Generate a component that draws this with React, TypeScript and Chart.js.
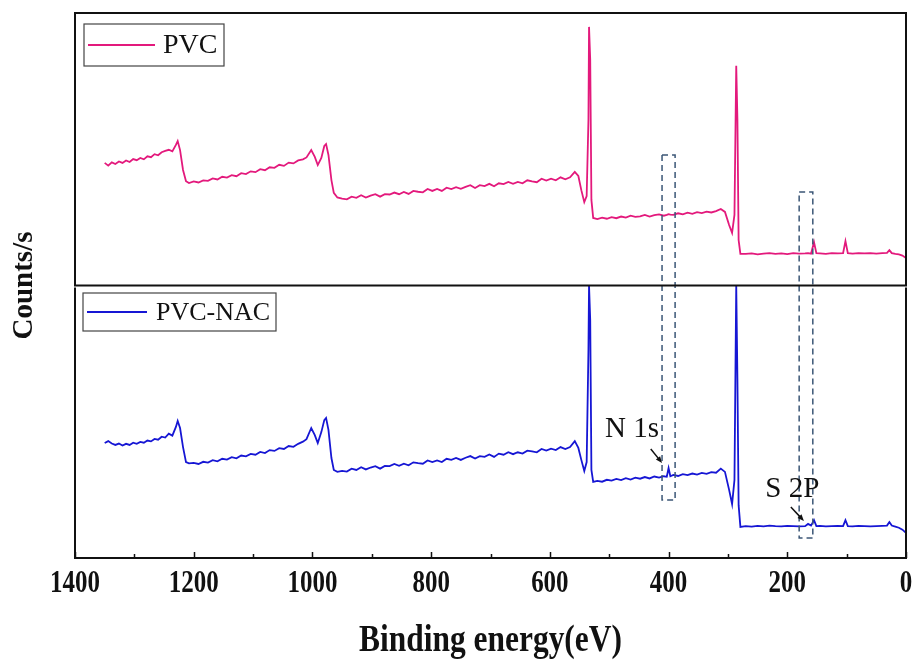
import React, { useEffect, useRef } from 'react';
import { Chart, registerables } from 'chart.js';

Chart.register(...registerables);

// Binding energy (eV) sampling points, shared by both spectra
const energies = [
  1350, 1344, 1338, 1332, 1326, 1320, 1314, 1308, 1302, 1296, 1290, 1284, 1278, 1272, 1266, 1260, 1254, 1248, 1242, 1236,
  1230, 1227, 1223, 1218, 1213, 1208,
  1200, 1192, 1184, 1176, 1168, 1160, 1152, 1144, 1136, 1128, 1120, 1112, 1104, 1096, 1088, 1080, 1072, 1064, 1056, 1048,
  1040, 1032, 1024, 1016, 1010,
  1002, 996, 991, 985, 980, 977, 973, 968, 964, 958,
  950, 942, 934, 926, 918, 910, 902, 894, 886, 878, 870, 862, 854, 846, 838, 830, 822, 814, 806, 798,
  790, 782, 774, 766, 758, 750, 742, 734, 726, 718, 710, 702, 694, 686, 678, 670, 662, 654, 646, 638,
  630, 622, 614, 606, 598, 590, 582, 574, 566,
  558, 552, 547, 542, 538, 535, 534, 532, 530, 527,
  520, 512, 504, 496, 488, 480, 472, 464, 456, 448, 440, 432, 424, 416, 408, 403, 400, 397, 392, 384,
  376, 368, 360, 352, 344, 336, 328, 320,
  312, 305, 298, 293, 289, 286, 284, 282, 279,
  270, 260, 250, 240, 230, 220, 210, 200, 190, 180, 170, 165, 160, 155, 151, 145, 135, 125, 115, 106,
  102, 98, 90, 80, 70, 60, 50, 40, 32, 28, 24, 18, 12, 6, 0,
];

// PVC spectrum (upper panel, offset counts)
const pvcCounts = [
  145.0, 144.0, 145.2, 144.6, 145.5, 145.0, 145.9, 145.3, 146.4, 146.0, 146.8, 146.3, 147.4, 147.1, 148.2, 147.8, 148.9, 149.4, 149.8, 149.2,
  151.6, 153.0, 149.7, 142.4, 138.3, 137.6,
  138.2, 137.8, 138.6, 138.4, 139.3, 138.9, 139.9, 139.6, 140.5, 140.1, 141.2, 140.9, 141.9, 141.6, 142.7, 142.3, 143.4, 143.2, 144.3, 143.9,
  145.1, 144.8, 145.9, 146.3, 147.0,
  149.7, 147.2, 144.2, 146.8, 151.2, 151.9, 147.9, 138.7, 134.0, 132.3,
  131.9, 131.6, 132.6, 132.2, 133.1, 132.3, 133.0, 133.5, 132.6, 133.5, 133.4, 134.1, 133.5, 134.3, 133.6, 134.7, 134.4, 134.2, 135.4, 134.7,
  135.4, 134.7, 135.9, 135.4, 136.1, 135.5, 136.2, 136.8, 135.8, 136.8, 136.5, 137.3, 136.4, 137.5, 137.2, 138.0, 137.3, 138.0, 137.5, 138.6,
  138.2, 137.9, 139.2, 138.5, 139.2, 138.6, 139.7, 139.0, 139.7,
  141.7, 140.2, 135.0, 130.6, 132.8, 160.7, 194.9, 182.8, 131.4, 124.8,
  124.4, 124.9, 124.5, 125.1, 124.7, 125.3, 124.9, 125.6, 125.2, 125.4, 125.9, 125.3, 125.8, 126.1, 125.6, 125.9, 126.2, 126.0, 125.9, 126.5,
  126.1, 126.7, 126.3, 126.9, 126.6, 127.1, 126.8, 127.3,
  128.1, 127.0, 122.2, 119.3, 125.9, 180.6, 160.7, 116.7, 111.6,
  111.6, 111.8, 111.4, 111.7, 111.9, 111.6, 111.8, 111.5, 111.9, 111.7, 111.8, 111.9, 111.7, 115.9, 111.9, 111.8, 111.6, 111.9, 111.8, 111.9,
  116.3, 111.9, 111.7, 111.9, 111.8, 111.9, 111.7, 111.9, 112.0, 113.0, 111.9, 111.6, 111.4, 111.0, 110.1,
];

// PVC-NAC spectrum (lower panel)
const pvcNacCounts = [
  42.2, 42.9, 42.0, 41.5, 42.0, 41.3, 41.9, 41.5, 42.3, 41.9, 42.6, 42.3, 43.1, 42.8, 43.7, 43.4, 44.5, 44.2, 45.6, 44.9,
  48.1, 50.3, 47.7, 40.7, 35.2, 34.7,
  34.9, 34.5, 35.3, 35.0, 35.9, 35.5, 36.4, 36.1, 37.0, 36.6, 37.6, 37.3, 38.2, 37.9, 38.9, 38.5, 39.6, 39.3, 40.3, 40.0,
  41.1, 40.8, 41.9, 42.7, 43.6,
  47.7, 45.1, 42.2, 46.2, 50.6, 51.4, 47.0, 36.7, 32.3, 31.6,
  32.0, 31.7, 32.8, 32.3, 33.3, 32.5, 33.2, 33.7, 32.8, 33.8, 33.7, 34.5, 33.8, 34.6, 34.0, 35.1, 34.8, 34.6, 35.8, 35.2,
  35.8, 35.2, 36.4, 36.0, 36.7, 36.0, 36.8, 37.4, 36.5, 37.4, 37.1, 38.0, 37.1, 38.3, 37.9, 38.8, 38.1, 38.8, 38.3, 39.4,
  39.1, 38.8, 40.0, 39.4, 40.1, 39.6, 40.7, 40.0, 40.7,
  42.9, 40.4, 36.0, 31.9, 35.2, 76.3, 100.0, 87.3, 32.3, 27.9,
  28.3, 28.0, 28.7, 28.4, 29.0, 28.6, 29.3, 28.8, 29.5, 29.1, 29.7, 29.2, 29.9, 29.5, 30.0, 29.8, 33.0, 30.0, 30.5, 30.1,
  30.8, 30.4, 31.0, 30.6, 31.2, 30.9, 31.5, 31.3,
  32.8, 31.6, 25.0, 19.8, 28.6, 100.0, 65.3, 19.4, 11.4,
  11.7, 11.5, 11.8, 11.6, 11.9, 11.7, 11.6, 11.8, 11.7, 11.6, 11.7, 12.5, 11.9, 13.9, 11.7, 11.8, 11.6, 11.7, 11.8, 11.7,
  13.9, 11.7, 11.6, 11.8, 11.7, 11.6, 11.7, 11.8, 11.9, 13.2, 11.9, 11.5, 11.1, 10.4, 9.2,
];

const seriesNames = ['PVC', 'PVC-NAC'];
const seriesColors = ['#e3197c', '#1616d4'];
const xTickValues = [1400, 1300, 1200, 1100, 1000, 900, 800, 700, 600, 500, 400, 300, 200, 100, 0];
const xAxisTitle = 'Binding energy(eV)';
const yAxisTitle = 'Counts/s';
const panelSplit = 100;
// Dashed marker boxes: [eV high, eV low, counts top, counts bottom]
const n1sBox = [411, 389, 147.9, 21.3];
const s2pBox = [180, 157, 134.3, 7.3];
// Annotation labels: [text, eV, counts] and arrows [eV from, counts from, eV to, counts to]
const annoLabels: [string, number, number][] = [
  ['N 1s', 507, 44.4],
  ['S 2P', 237, 22.4],
];
const annoArrows = [
  [430, 40.0, 411, 34.9],
  [194, 18.7, 172, 13.6],
];

const SERIF = '"Liberation Serif", "Times New Roman", serif';

const decorPlugin = {
  id: 'xpsDecor',
  afterDatasetsDraw(chart: any) {
    const { ctx, chartArea: a, scales } = chart;
    const x = scales.x;
    const y = scales.y;
    const mid = y.getPixelForValue(panelSplit);
    ctx.save();

    // dashed marker boxes
    ctx.strokeStyle = '#3b5676';
    ctx.lineWidth = 1.5;
    ctx.setLineDash([6, 4]);
    for (const b of [n1sBox, s2pBox]) {
      const x1 = x.getPixelForValue(b[0]);
      const x2 = x.getPixelForValue(b[1]);
      const y1 = y.getPixelForValue(b[2]);
      const y2 = y.getPixelForValue(b[3]);
      ctx.strokeRect(x1, y1, x2 - x1, y2 - y1);
    }
    ctx.setLineDash([]);

    // frames
    ctx.strokeStyle = '#111';
    ctx.lineWidth = 2;
    ctx.strokeRect(a.left, a.top, a.right - a.left, mid - a.top);
    ctx.beginPath();
    ctx.moveTo(a.left, mid + 2);
    ctx.lineTo(a.left, a.bottom);
    ctx.lineTo(a.right, a.bottom);
    ctx.lineTo(a.right, mid + 2);
    ctx.stroke();

    // inward tick marks on the bottom axis
    ctx.lineWidth = 1.5;
    ctx.beginPath();
    for (const v of xTickValues) {
      const px = Math.round(x.getPixelForValue(v)) + 0.5;
      const len = v % 200 === 0 ? 6 : 4;
      ctx.moveTo(px, a.bottom);
      ctx.lineTo(px, a.bottom - len);
    }
    ctx.stroke();

    // x tick labels (condensed bold, as in the original figure)
    ctx.fillStyle = '#111';
    ctx.textAlign = 'center';
    ctx.textBaseline = 'alphabetic';
    ctx.font = `bold 32px ${SERIF}`;
    for (const t of x.ticks) {
      const px = x.getPixelForValue(t.value);
      ctx.save();
      ctx.translate(px, a.bottom + 34);
      ctx.scale(0.78, 1);
      ctx.fillText(String(t.value), 0, 0);
      ctx.restore();
    }
    // x axis title
    ctx.font = `bold 37px ${SERIF}`;
    ctx.save();
    ctx.translate((a.left + a.right) / 2, a.bottom + 93);
    ctx.scale(0.85, 1);
    ctx.fillText(xAxisTitle, 0, 0);
    ctx.restore();

    // legends
    const legends = [
      { top: a.top + 11, h: 42, w: 140, boxL: 9, lineL: 13, lineR: 80, textX: 88, size: 28 },
      { top: mid + 7.5, h: 38, w: 193, boxL: 8, lineL: 12, lineR: 72, textX: 81, size: 26 },
    ];
    legends.forEach((L, i) => {
      ctx.strokeStyle = '#444';
      ctx.lineWidth = 1.2;
      ctx.strokeRect(a.left + L.boxL, L.top, L.w, L.h);
      ctx.strokeStyle = seriesColors[i];
      ctx.lineWidth = 2;
      ctx.beginPath();
      ctx.moveTo(a.left + L.lineL, L.top + L.h / 2);
      ctx.lineTo(a.left + L.lineR, L.top + L.h / 2);
      ctx.stroke();
      ctx.fillStyle = '#111';
      ctx.font = `${L.size}px ${SERIF}`;
      ctx.textBaseline = 'middle';
      ctx.textAlign = 'left';
      ctx.fillText(seriesNames[i], a.left + L.textX, L.top + L.h / 2 + 1);
    });

    // annotations
    ctx.fillStyle = '#111';
    ctx.font = `29px ${SERIF}`;
    ctx.textBaseline = 'alphabetic';
    ctx.textAlign = 'left';
    for (const [t, ev, c] of annoLabels) {
      ctx.fillText(t, x.getPixelForValue(ev), y.getPixelForValue(c));
    }
    ctx.strokeStyle = '#111';
    ctx.lineWidth = 1.5;
    for (const ar of annoArrows) {
      const x1 = x.getPixelForValue(ar[0]);
      const y1 = y.getPixelForValue(ar[1]);
      const x2 = x.getPixelForValue(ar[2]);
      const y2 = y.getPixelForValue(ar[3]);
      const ang = Math.atan2(y2 - y1, x2 - x1);
      const hl = 7;
      ctx.beginPath();
      ctx.moveTo(x1, y1);
      ctx.lineTo(x2 - Math.cos(ang) * hl * 0.6, y2 - Math.sin(ang) * hl * 0.6);
      ctx.stroke();
      ctx.beginPath();
      ctx.moveTo(x2, y2);
      ctx.lineTo(x2 - hl * Math.cos(ang - 0.4), y2 - hl * Math.sin(ang - 0.4));
      ctx.lineTo(x2 - hl * Math.cos(ang + 0.4), y2 - hl * Math.sin(ang + 0.4));
      ctx.closePath();
      ctx.fill();
    }
    ctx.restore();
  },
};

export default function App() {
  const ref = useRef<HTMLCanvasElement>(null);
  useEffect(() => {
    if (!ref.current) return;
    const chart = new Chart(ref.current, {
      type: 'line',
      data: {
        datasets: [
          {
            label: seriesNames[0],
            data: energies.map((e, i) => ({ x: e, y: pvcCounts[i] })),
            borderColor: seriesColors[0],
            borderWidth: 1.8,
            pointRadius: 0,
            tension: 0,
          },
          {
            label: seriesNames[1],
            data: energies.map((e, i) => ({ x: e, y: pvcNacCounts[i] })),
            borderColor: seriesColors[1],
            borderWidth: 1.8,
            pointRadius: 0,
            tension: 0,
          },
        ],
      },
      options: {
        responsive: false,
        animation: false,
        devicePixelRatio: 1,
        layout: { padding: { top: 13, right: 13, left: 0, bottom: 0 } },
        plugins: { legend: { display: false }, tooltip: { enabled: false } },
        scales: {
          x: {
            type: 'linear',
            reverse: true,
            min: 0,
            max: 1400,
            grid: { display: false },
            border: { display: false },
            ticks: { stepSize: 200, display: false },
            afterFit: (s: any) => {
              s.height = 105;
            },
          },
          y: {
            min: 0,
            max: 200,
            grid: { display: false },
            border: { display: false },
            ticks: { display: false },
            title: {
              display: true,
              text: yAxisTitle,
              color: '#111',
              font: { family: SERIF, weight: 'bold', size: 29 },
              padding: { top: 7, bottom: 0 },
            },
            afterFit: (s: any) => {
              s.width = 75;
            },
          },
        },
      } as any,
      plugins: [decorPlugin],
    });
    return () => chart.destroy();
  }, []);
  return (
    <div style={{ position: 'absolute', left: 0, top: 0, width: 919, height: 663, background: '#fff' }}>
      <canvas ref={ref} width={919} height={663} style={{ display: 'block', width: '919px', height: '663px' }} />
    </div>
  );
}
